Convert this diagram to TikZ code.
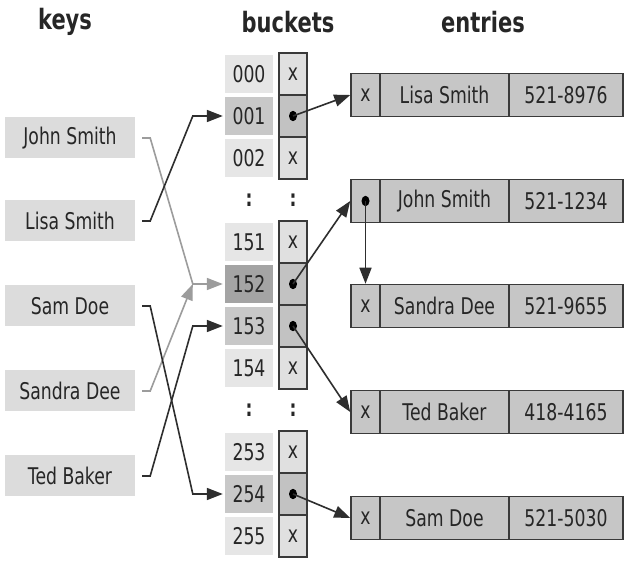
\documentclass[tikz,border=0pt]{standalone}
\usepackage{fontspec}
\setmainfont[FakeStretch=0.75]{DejaVu Sans}
\usetikzlibrary{arrows.meta}
\definecolor{keyfill}{HTML}{DCDCDC}
\definecolor{numlight}{HTML}{E6E6E6}
\definecolor{nummid}{HTML}{C8C8C8}
\definecolor{numdark}{HTML}{A4A4A4}
\definecolor{ptrlight}{HTML}{E0E0E0}
\definecolor{ptrdark}{HTML}{C2C2C2}
\definecolor{entfill}{HTML}{C6C6C6}
\definecolor{edge}{HTML}{3A3A3A}
\definecolor{lineclr}{HTML}{2E2E2E}
\definecolor{greyline}{HTML}{9C9C9C}
\tikzset{
  lbl/.style={font=\fontsize{23}{27}\selectfont, text=black!85},
  title/.style={font=\fontsize{28}{32}\selectfont\bfseries, text=black!85},
  keybox/.style={lbl, fill=keyfill, minimum width=130pt, minimum height=41pt, inner sep=0pt},
  numcell/.style={lbl, minimum width=48pt, minimum height=38pt, inner sep=0pt},
  ptrcell/.style={lbl, draw=edge, line width=1.5pt, minimum width=28pt, minimum height=42pt, inner sep=0pt},
  sep/.style={font=\fontsize{23}{27}\selectfont\bfseries, text=black!85},
  entcell/.style={lbl, draw=edge, line width=1.5pt, fill=entfill, minimum height=43pt, inner sep=0pt},
  conn/.style={draw=lineclr, line width=1.6pt, -{Triangle[length=16pt,width=12pt]}},
  gconn/.style={draw=greyline, line width=1.6pt, -{Triangle[length=16pt,width=12pt]}},
  dotmark/.style={fill=black}
}
\begin{document}
\begin{tikzpicture}[x=1pt,y=-1pt]
\useasboundingbox (0,0) rectangle (625,561);
\fill[white] (0,0) rectangle (625,561);

% titles
\node[title] (tkeys) at (65,22) {keys};
\node[title] (tbuck) at (288,22) {buckets};
\node[title] (tent) at (483,22) {entries};

% keys
\node[keybox] (k1) at (70,138) {John Smith};
\node[keybox] (k2) at (70,221) {Lisa Smith};
\node[keybox] (k3) at (70,306) {Sam Doe};
\node[keybox] (k4) at (70,391) {Sandra Dee};
\node[keybox] (k5) at (70,476) {Ted Baker};

% bucket numbers
\node[numcell, fill=numlight] (n000) at (249,74) {000};
\node[numcell, fill=nummid]   (n001) at (249,116) {001};
\node[numcell, fill=numlight] (n002) at (249,158) {002};
\node[numcell, fill=numlight] (n151) at (249,242) {151};
\node[numcell, fill=numdark]  (n152) at (249,284) {152};
\node[numcell, fill=nummid]   (n153) at (249,326) {153};
\node[numcell, fill=numlight] (n154) at (249,368) {154};
\node[numcell, fill=numlight] (n253) at (249,452) {253};
\node[numcell, fill=nummid]   (n254) at (249,494) {254};
\node[numcell, fill=numlight] (n255) at (249,536) {255};

% separators
\node[sep] (s1a) at (249,200) {:};
\node[sep] (s1b) at (293,200) {:};
\node[sep] (s2a) at (249,410) {:};
\node[sep] (s2b) at (293,410) {:};

% pointer cells
\node[ptrcell, fill=ptrlight] (p000) at (293,74) {x};
\node[ptrcell, fill=ptrdark]  (p001) at (293,116) {};
\node[ptrcell, fill=ptrlight] (p002) at (293,158) {x};
\node[ptrcell, fill=ptrlight] (p151) at (293,242) {x};
\node[ptrcell, fill=ptrdark]  (p152) at (293,284) {};
\node[ptrcell, fill=ptrdark]  (p153) at (293,326) {};
\node[ptrcell, fill=ptrlight] (p154) at (293,368) {x};
\node[ptrcell, fill=ptrlight] (p253) at (293,452) {x};
\node[ptrcell, fill=ptrdark]  (p254) at (293,494) {};
\node[ptrcell, fill=ptrlight] (p255) at (293,536) {x};
\foreach \p in {p001,p152,p153,p254}
  \fill[dotmark] (\p.center) ellipse [x radius=4pt, y radius=5.2pt];

% entries
\node[entcell, minimum width=29pt]  (e1p) at (365.5,95) {x};
\node[entcell, minimum width=129pt] (e1n) at (444.5,95) {Lisa Smith};
\node[entcell, minimum width=114pt] (e1t) at (566,95) {521-8976};

\node[entcell, minimum width=29pt]  (e2p) at (365.5,201) {};
\node[entcell, minimum width=129pt] (e2n) at (444.5,201) {John Smith};
\node[entcell, minimum width=114pt] (e2t) at (566,201) {521-1234};

\node[entcell, minimum width=29pt]  (e3p) at (365.5,306) {x};
\node[entcell, minimum width=129pt] (e3n) at (444.5,306) {Sandra Dee};
\node[entcell, minimum width=114pt] (e3t) at (566,306) {521-9655};

\node[entcell, minimum width=29pt]  (e4p) at (365.5,412) {x};
\node[entcell, minimum width=129pt] (e4n) at (444.5,412) {Ted Baker};
\node[entcell, minimum width=114pt] (e4t) at (566,412) {418-4165};

\node[entcell, minimum width=29pt]  (e5p) at (365.5,518) {x};
\node[entcell, minimum width=129pt] (e5n) at (444.5,518) {Sam Doe};
\node[entcell, minimum width=114pt] (e5t) at (566,518) {521-5030};
\fill[dotmark] (e2p.center) ellipse [x radius=4pt, y radius=5.2pt];

% key -> bucket connectors
\draw[gconn] ([xshift=7pt]k1.east) -- ++(8,0) -- ([xshift=-32pt]n152.west) -- ([xshift=-2pt]n152.west);
\draw[gconn] ([xshift=7pt]k4.east) -- ++(8,0) -- ([xshift=-32pt]n152.west);
\draw[conn] ([xshift=7pt]k2.east) -- ++(8,0) -- ([xshift=-32pt]n001.west) -- ([xshift=-2pt]n001.west);
\draw[conn] ([xshift=7pt]k3.east) -- ++(8,0) -- ([xshift=-32pt]n254.west) -- ([xshift=-2pt]n254.west);
\draw[conn] ([xshift=7pt]k5.east) -- ++(8,0) -- ([xshift=-32pt]n153.west) -- ([xshift=-2pt]n153.west);

% bucket -> entry connectors
\draw[conn] (p001.center) -- (e1p.west);
\draw[conn] (p152.center) -- (e2p.west);
\draw[conn] (p153.center) -- (e4p.west);
\draw[conn] (p254.center) -- (e5p.west);
\draw[conn] (e2p.center) -- (e3p.north);
\end{tikzpicture}
\end{document}
